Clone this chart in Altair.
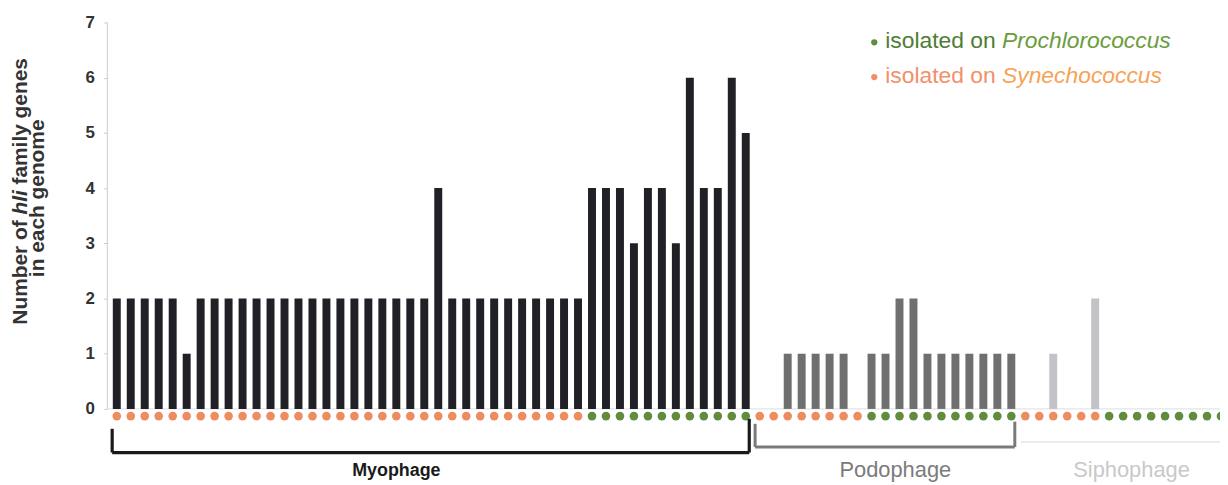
import altair as alt
import pandas as pd

# ---- data ----
groups = ["Myophage", "Podophage", "Siphophage"]
# hli gene counts per genome, split by isolation host (Synechococcus first, then Prochlorococcus)
myo_syn = [2, 2, 2, 2, 2, 1, 2, 2, 2, 2, 2, 2, 2, 2, 2, 2, 2, 2, 2, 2, 2, 2, 2, 4, 2, 2, 2, 2, 2, 2, 2, 2, 2, 2]
myo_pro = [4, 4, 4, 3, 4, 4, 3, 6, 4, 4, 6, 5]
podo_syn = [0, 0, 1, 1, 1, 1, 1, 0]
podo_pro = [1, 1, 2, 2, 1, 1, 1, 1, 1, 1, 1]
sipho_syn = [0, 0, 1, 0, 0, 2]
sipho_pro = [0, 0, 0, 0, 0, 0, 0, 0, 0]

hosts = ["Synechococcus", "Prochlorococcus"]
series = {
    "Myophage": [myo_syn, myo_pro],
    "Podophage": [podo_syn, podo_pro],
    "Siphophage": [sipho_syn, sipho_pro],
}
label_pos = [20, 55.7, 72.6]  # label centre (genome index) under each bracket

bar_colors = {"Myophage": "#202026", "Podophage": "#6f6f6f", "Siphophage": "#c3c3c7"}
dot_colors = {"Synechococcus": "#ee8c60", "Prochlorococcus": "#5f8c3e"}

rows = []
idx = 0
first_last = {}
for g in groups:
    start = idx
    for h, vals in zip(hosts, series[g]):
        for v in vals:
            rows.append({"idx": idx, "count": v, "host": h, "group": g,
                         "bar_color": bar_colors[g], "dot_color": dot_colors[h]})
            idx += 1
    first_last[g] = (start, idx - 1)
df = pd.DataFrame(rows)

brk_df = pd.DataFrame({
    "group": groups,
    "start": [first_last[g][0] - 0.33 for g in groups],
    "end": [first_last[g][1] + 0.25 for g in groups],
    "label_x": label_pos,
})

xs = alt.Scale(domain=[-0.675, 78.93], nice=False, zero=False, padding=0)
ys = alt.Scale(domain=[-1.3136, 7], nice=False, zero=False, padding=0)
FONT = "Liberation Sans"

bars = alt.Chart(df).transform_filter("datum.count > 0").mark_bar(size=8).encode(
    x=alt.X("idx:Q", scale=xs, axis=None),
    y=alt.Y("count:Q", scale=ys, axis=alt.Axis(
        values=list(range(8)), format="d", title="", grid=False, domain=False,
        tickColor="#cfcfcf", tickSize=4, labelFont=FONT, labelFontSize=17,
        labelFontWeight="bold", labelColor="#333333", labelPadding=9)),
    y2=alt.datum(0),
    color=alt.Color("bar_color:N", scale=None),
)

dots = alt.Chart(df).mark_circle(size=76, opacity=1).encode(
    x=alt.X("idx:Q", scale=xs, axis=None),
    y=alt.datum(-0.13),
    color=alt.Color("dot_color:N", scale=None),
)

one = pd.DataFrame({"a": [0]})
yline = alt.Chart(one).mark_rule(color="#cccccc", strokeWidth=1).encode(
    x=alt.value(0), y=alt.datum(0), y2=alt.datum(7))
baseline = alt.Chart(one).mark_rule(color="#dddddd", strokeWidth=1).encode(
    x=alt.value(0), x2=alt.value(1120), y=alt.datum(0))

layers = [yline, baseline, bars, dots]

brk_style = {
    "Myophage": dict(color="#1a1a1a", w=3.2, yh=-0.79, tl=-0.36, tr=-0.18,
                     fs=18, fw="bold", tc="#1a1a1a"),
    "Podophage": dict(color="#7a7a7a", w=3, yh=-0.69, tl=-0.27, tr=-0.23,
                      fs=22, fw="normal", tc="#7b7b7b"),
    "Siphophage": dict(color="#ececec", w=2, yh=-0.60, tl=None, tr=None,
                       fs=22, fw="normal", tc="#c9c9c9"),
}
for g in groups:
    s = brk_style[g]
    sub = alt.Chart(brk_df).transform_filter(alt.datum.group == g)
    layers.append(sub.mark_rule(color=s["color"], strokeWidth=s["w"]).encode(
        x=alt.X("start:Q", scale=xs, axis=None), x2="end:Q", y=alt.datum(s["yh"])))
    if s["tl"] is not None:
        layers.append(sub.mark_rule(color=s["color"], strokeWidth=s["w"]).encode(
            x=alt.X("start:Q", scale=xs, axis=None), y=alt.datum(s["yh"]), y2=alt.datum(s["tl"])))
        layers.append(sub.mark_rule(color=s["color"], strokeWidth=s["w"]).encode(
            x=alt.X("end:Q", scale=xs, axis=None), y=alt.datum(s["yh"]), y2=alt.datum(s["tr"])))
    layers.append(sub.mark_text(font=FONT, fontSize=s["fs"], fontWeight=s["fw"],
                                color=s["tc"], baseline="middle", align="center").encode(
        x=alt.X("label_x:Q", scale=xs, axis=None), y=alt.datum(-1.116), text="group:N"))


def txt(x, y, t, color, size, weight="normal", style="normal", angle=0, align="left"):
    kw = dict(font=FONT, fontSize=size, fontWeight=weight, fontStyle=style,
              color=color, align=align, baseline="middle")
    if angle:
        kw["angle"] = angle
        kw["baseline"] = "alphabetic"
    return alt.Chart(one).mark_text(**kw).encode(
        x=alt.value(x), y=alt.value(y), text=alt.value(t))


# legend
LF = 23
layers += [
    alt.Chart(one).mark_circle(size=40, opacity=1, color="#5f8c3e").encode(
        x=alt.value(772), y=alt.value(20)),
    txt(783, 19, "isolated on", "#4f7d34", LF),
    txt(783 + 117.6, 19, "Prochlorococcus", "#6b9c3e", LF, style="italic"),
    alt.Chart(one).mark_circle(size=40, opacity=1, color="#f0906a").encode(
        x=alt.value(772), y=alt.value(55)),
    txt(783, 54, "isolated on", "#f2906a", LF),
    txt(783 + 117.6, 54, "Synechococcus", "#f6a257", LF, style="italic"),
]

# y-axis title (rotated, with italic gene name); 21px bold Arial-metric offsets
layers += [
    txt(-81, 304.2, "Number of", "#333333", 21, weight="bold", angle=270),
    txt(-81, 304.2 - 110.8, "hli", "#333333", 21, weight="bold", style="italic", angle=270),
    txt(-81, 304.2 - 141.1, "family genes", "#333333", 21, weight="bold", angle=270),
    txt(-64, 177, "in each genome", "#333333", 21, weight="bold", angle=270, align="center"),
]

chart = alt.layer(*layers).properties(
    width=1120, height=462,
    padding={"left": 100, "top": 13, "right": 0, "bottom": 0},
    autosize=alt.AutoSizeParams(type="none"),
).configure_view(stroke=None)

chart.save("out.html", embed_options={"renderer": "svg", "actions": False})
